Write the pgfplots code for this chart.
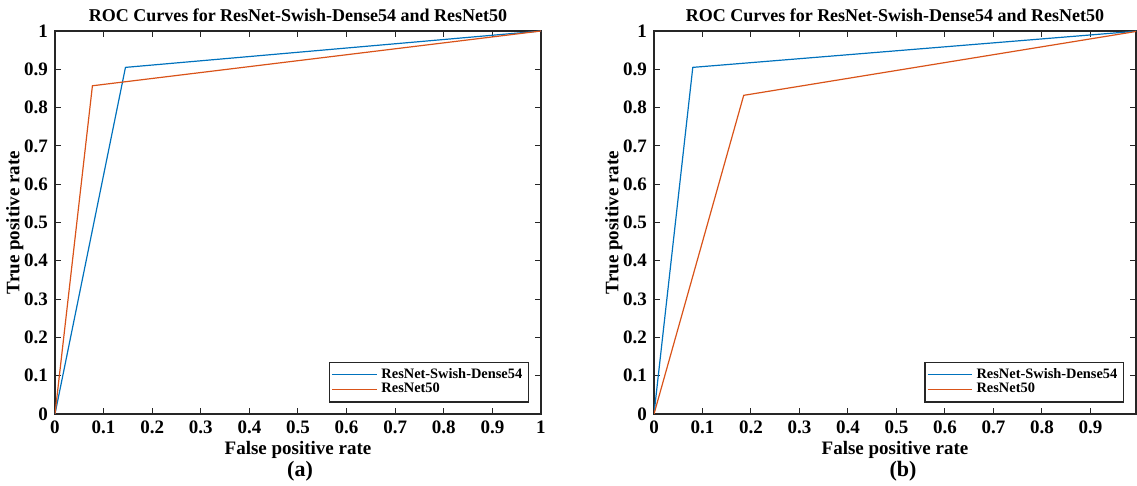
\documentclass[border=0pt]{standalone}
\usepackage{fontspec}
\setmainfont{Liberation Serif}
\usepackage{pgfplots}
\pgfplotsset{compat=1.18}
\definecolor{mblue}{RGB}{0,114,189}
\definecolor{morange}{RGB}{217,83,25}
\definecolor{mframe}{RGB}{38,38,38}
\pgfplotsset{
  rocax/.style={
    scale only axis, width=243pt, height=191.5pt,
    xmin=0, ymin=0, ymax=1,
    ytick={0,0.1,...,1.01},
    tick align=inside, major tick length=3pt,
    axis line style={mframe, line width=0.6pt},
    every tick/.style={mframe, line width=0.5pt},
    tick label style={font=\bfseries\fontsize{9.5}{10}\selectfont},
    /pgf/number format/assume math mode=true,
    label style={font=\bfseries\fontsize{9.5}{10}\selectfont},
    title style={font=\bfseries\fontsize{9}{10}\selectfont, yshift=-5pt},
    xlabel={False positive rate}, ylabel={True positive rate},
    xlabel style={yshift=3pt}, ylabel style={yshift=-6.5pt},
    title={ROC Curves for ResNet-Swish-Dense54 and ResNet50},
    legend cell align=left,
    legend style={at={(rel axis cs:0.975,0.03)}, anchor=south east,
      font=\bfseries\fontsize{7.2}{8}\selectfont, draw=mframe, line width=0.6pt,
      inner sep=1pt, row sep=-3pt},
    legend image code/.code={\draw[#1, line width=0.6pt] (0cm,0cm) -- (0.78cm,0cm);},
  }
}
\begin{document}
\begin{tikzpicture}
\path[use as bounding box] (0,0) rectangle (568.5pt,-243pt);
\begin{axis}[rocax, at={(27.5pt,-207pt)}, anchor=south west,
  xmax=1, xtick={0,0.1,...,1.01}]
\addplot[mblue, line width=0.6pt] coordinates {(0,0) (0.145,0.905) (1,1)};
\addplot[morange, line width=0.6pt] coordinates {(0,0) (0.077,0.857) (1,1)};
\legend{ResNet-Swish-Dense54, ResNet50}
\end{axis}
\begin{axis}[rocax, at={(327pt,-207pt)}, anchor=south west, width=241pt,
  xmax=0.994, xtick={0,0.1,...,0.91}]
\addplot[mblue, line width=0.6pt] coordinates {(0,0) (0.08,0.905) (1,1)};
\addplot[morange, line width=0.6pt] coordinates {(0,0) (0.185,0.832) (1,1)};
\legend{ResNet-Swish-Dense54, ResNet50}
\end{axis}
\node[font=\bfseries\fontsize{11}{13}\selectfont] at (150pt,-235.5pt) {(a)};
\node[font=\bfseries\fontsize{11}{13}\selectfont] at (451.5pt,-235.5pt) {(b)};
\end{tikzpicture}
\end{document}
